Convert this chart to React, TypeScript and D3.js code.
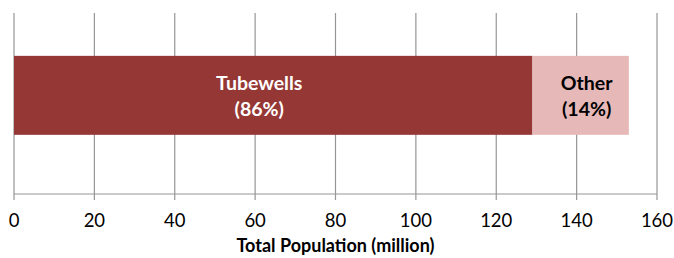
import * as d3 from 'd3';
import React from 'react';

const categories = ['Tubewells', 'Other'];
const shares = ['(86%)', '(14%)'];
const values = [129, 24];
const colors = ['#953735', '#E6B9B8'];
const labelColors = ['#ffffff', '#000000'];
const labelShift = [-14, 6];
const ticks = [0, 20, 40, 60, 80, 100, 120, 140, 160];

const W = 674;
const H = 258;
const FONT = 'Lato, "Open Sans", sans-serif';

const App = () => {
	const margin = { top: 13, right: 17, bottom: 64, left: 14 };
	const innerW = W - margin.left - margin.right;
	const innerH = H - margin.top - margin.bottom;

	const x = d3.scaleLinear().domain([0, 160]).range([0, innerW]);
	const y = d3.scaleBand().domain(['row']).range([0, innerH]).paddingInner(0).paddingOuter(0.646).align(0.42);

	const stacks = values.map((v, i) => {
		const start = d3.sum(values.slice(0, i));
		return { name: categories[i], share: shares[i], start, end: start + v, i };
	});

	return (
		<svg width={W} height={H} style={{ position: 'fixed', left: 0, top: 0, background: '#fff' }}>
			<g transform={`translate(${margin.left},${margin.top})`}>
				{ticks.map((t) => (
					<line key={'g' + t} x1={x(t)} x2={x(t)} y1={0} y2={innerH + 6} stroke="#969696" strokeWidth={1.2} />
				))}
				<line x1={0} x2={innerW} y1={innerH} y2={innerH} stroke="#969696" strokeWidth={1.2} />
				{stacks.map((s) => (
					<rect key={s.name} x={x(s.start)} y={y('row')} width={x(s.end) - x(s.start)} height={y.bandwidth()} fill={colors[s.i]} />
				))}
				{stacks.map((s) => {
					const cx = (x(s.start) + x(s.end)) / 2 + labelShift[s.i];
					const cy = y('row')! + y.bandwidth() / 2;
					return (
						<text key={'l' + s.name} x={cx} y={cy} textAnchor="middle" fill={labelColors[s.i]}
							fontFamily={FONT} fontWeight="bold" fontSize={19.5}>
							<tspan x={cx} dy={-5.5}>{s.name}</tspan>
							<tspan x={cx} dy={26}>{s.share}</tspan>
						</text>
					);
				})}
				{ticks.map((t) => (
					<text key={'t' + t} x={x(t)} y={innerH + 33} textAnchor="middle" fontFamily={FONT} fontSize={18.5} fill="#000">
						{t}
					</text>
				))}
				<text x={x(80)} y={innerH + 58} textAnchor="middle" fontFamily={FONT} fontWeight="bold" fontSize={18} fill="#000">
					Total Population (million)
				</text>
			</g>
		</svg>
	);
};

export default App;
